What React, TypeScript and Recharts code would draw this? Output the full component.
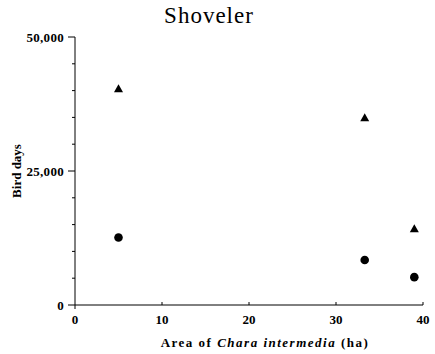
import React from "react";
import { ScatterChart, Scatter, XAxis, YAxis, Label } from "recharts";

const areaHa = [5, 33.3, 39];
const totalBirdDays = [40400, 35000, 14300];
const otherBirdDays = [12600, 8400, 5200];
const xTicks = [0, 10, 20, 30, 40];
const yTicks = [0, 5000, 10000, 15000, 20000, 25000, 30000, 35000, 40000, 45000, 50000];
const yMajor = [0, 25000, 50000];

const triData = areaHa.map((x, i) => ({ x, y: totalBirdDays[i] }));
const dotData = areaHa.map((x, i) => ({ x, y: otherBirdDays[i] }));

const FONT = "'Liberation Serif', 'Times New Roman', serif";

const fmt = (v: number) => v.toLocaleString("en-US");

const YTick = (props: any) => {
  const { x, y, payload } = props;
  const major = yMajor.includes(payload.value);
  return (
    <g>
      <line x1={x - (major ? 7 : 3)} x2={x} y1={y} y2={y} stroke="#000" strokeWidth={1} />
      {major && (
        <text x={x - 11} y={y} dy={4.5} textAnchor="end" fontFamily={FONT} fontWeight="bold" fontSize={13} letterSpacing={0.3} fill="#000">
          {fmt(payload.value)}
        </text>
      )}
    </g>
  );
};

const XTick = (props: any) => {
  const { x, y, payload } = props;
  const zero = payload.value === 0;
  return (
    <g>
      {zero ? (
        <line x1={x} x2={x} y1={y} y2={y + 4} stroke="#000" strokeWidth={1} />
      ) : (
        <line x1={x} x2={x} y1={y - 3} y2={y} stroke="#000" strokeWidth={1} />
      )}
      <text x={x} y={y + 19} textAnchor="middle" fontFamily={FONT} fontWeight="bold" fontSize={13} fill="#000">
        {payload.value}
      </text>
    </g>
  );
};

const Triangle = (props: any) => {
  const { cx, cy } = props;
  return <polygon points={`${cx - 4.5},${cy + 3.8} ${cx + 4.5},${cy + 3.8} ${cx},${cy - 4.2}`} fill="#000" />;
};

const Dot = (props: any) => {
  const { cx, cy } = props;
  return <circle cx={cx} cy={cy} r={4.3} fill="#000" />;
};

export default function App() {
  return (
    <div style={{ position: "absolute", left: 0, top: 0, width: 435, height: 354, background: "#fff" }}>
      <div
        style={{
          position: "absolute",
          left: 0,
          width: 418,
          top: 3,
          textAlign: "center",
          fontFamily: FONT,
          fontSize: 23,
          letterSpacing: 1,
          color: "#000",
        }}
      >
        Shoveler
      </div>
      <ScatterChart width={435} height={354} margin={{ top: 37, right: 12, left: 0, bottom: 0 }}>
        <XAxis
          type="number"
          dataKey="x"
          domain={[0, 40]}
          ticks={xTicks}
          interval={0}
          height={49}
          tickSize={0}
          tickMargin={0}
          tickLine={false}
          axisLine={{ stroke: "#000", strokeWidth: 1 }}
          tick={<XTick />}
        >
          <Label
            content={(p: any) => {
              const vb = p.viewBox;
              return (
                <text x={vb.x + vb.width / 2 + 16} y={347} textAnchor="middle" fontFamily={FONT} fontWeight="bold" fontSize={13} letterSpacing={1.5} fill="#000">
                  Area of <tspan fontStyle="italic">Chara intermedia</tspan> (ha)
                </text>
              );
            }}
          />
        </XAxis>
        <YAxis
          type="number"
          dataKey="y"
          domain={[0, 50000]}
          ticks={yTicks}
          interval={0}
          width={75}
          tickSize={0}
          tickMargin={0}
          tickLine={false}
          axisLine={{ stroke: "#000", strokeWidth: 1 }}
          tick={<YTick />}
        >
          <Label
            content={() => (
              <text
                x={16}
                y={171}
                transform="rotate(-90 16 171)"
                textAnchor="middle"
                dominantBaseline="central"
                fontFamily={FONT}
                fontWeight="bold"
                fontSize={13}
                fill="#000"
              >
                Bird days
              </text>
            )}
          />
        </YAxis>
        <Scatter data={triData} shape={<Triangle />} isAnimationActive={false} />
        <Scatter data={dotData} shape={<Dot />} isAnimationActive={false} />
      </ScatterChart>
    </div>
  );
}
